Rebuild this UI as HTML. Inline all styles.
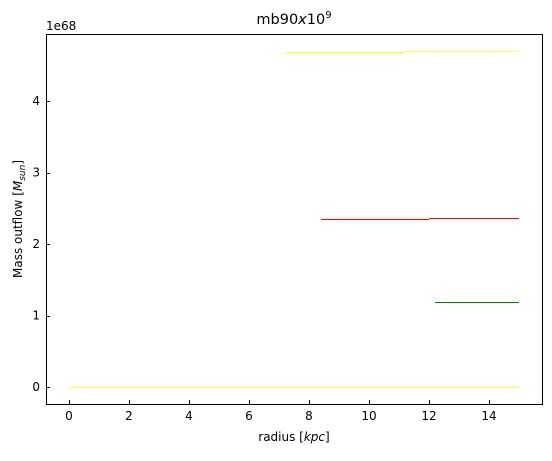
<!DOCTYPE html>
<html><head><meta charset="utf-8"><style>
body{margin:0;background:#fff;font-family:"Liberation Sans","DejaVu Sans",sans-serif}
svg text{font-family:"DejaVu Sans","Liberation Sans",sans-serif;fill:#000}
</style></head><body>
<svg id="chart" width="552" height="456" xmlns="http://www.w3.org/2000/svg">
<rect x="0" y="0" width="552" height="456" fill="#fff"/>
<g id="marks" shape-rendering="crispEdges"></g>
<g id="axes"></g>
<rect x="46.5" y="34.5" width="496" height="370" fill="none" stroke="#000" stroke-width="1"/>
<text x="294" y="24" font-size="14.5" text-anchor="middle">mb90<tspan font-style="italic">x</tspan>10<tspan font-size="10" dy="-6">9</tspan></text>
<text x="294" y="441" font-size="12" text-anchor="middle">radius [<tspan font-style="italic">kpc</tspan>]</text>
<text transform="translate(22,219) rotate(-90)" font-size="12" text-anchor="middle">Mass outflow [<tspan font-style="italic">M</tspan><tspan font-style="italic" font-size="9" dy="3">sun</tspan><tspan dy="-3">]</tspan></text>
<text x="46" y="30" font-size="12">1e68</text>
</svg>
<script>
const xTicks=[0,2,4,6,8,10,12,14];
const yTicks=[0,1,2,3,4];
const segStart=[0,7.2,11.2,8.4,12,12.2];
const segEnd=[15,11.2,15,12,15,15];
const segValue=[0,4.685,4.695,2.35,2.364,1.19];
const segColor=['#ffff40','#ffff00','#ffff60','#ff0000','#ff0000','#008000'];
const segName=['yellow-baseline','yellow-step-1','yellow-step-2','red-step-1','red-step-2','green-step'];
const sx=v=>69+v*30;
const sy=v=>387-v*71.5;
const NS='http://www.w3.org/2000/svg';
const marks=document.getElementById('marks');
const axes=document.getElementById('axes');
for(let i=0;i<segStart.length;i++){
  const l=document.createElementNS(NS,'line');
  
  
  const y=Math.round(sy(segValue[i]))+0.5;
  l.setAttribute('x1',sx(segStart[i]));l.setAttribute('x2',sx(segEnd[i]));
  l.setAttribute('y1',y);l.setAttribute('y2',y);
  l.setAttribute('stroke',segColor[i]);
  l.setAttribute('stroke-width',1);
  marks.appendChild(l);
}
xTicks.forEach(t=>{
  const l=document.createElementNS(NS,'line');
  
  
  l.setAttribute('x1',sx(t)+0.5);l.setAttribute('x2',sx(t)+0.5);l.setAttribute('y1',404);l.setAttribute('y2',400);
  l.setAttribute('stroke','#000');axes.appendChild(l);
  const tx=document.createElementNS(NS,'text');
  
  
  tx.setAttribute('x',sx(t));tx.setAttribute('y',420);tx.setAttribute('font-size','12');tx.setAttribute('text-anchor','middle');
  tx.textContent=t;axes.appendChild(tx);
});
yTicks.forEach(t=>{
  const l=document.createElementNS(NS,'line');
  
  
  l.setAttribute('x1',46);l.setAttribute('x2',50);l.setAttribute('y1',Math.round(sy(t))+0.5);l.setAttribute('y2',Math.round(sy(t))+0.5);
  l.setAttribute('stroke','#000');axes.appendChild(l);
  const tx=document.createElementNS(NS,'text');
  
  
  tx.setAttribute('x',40);tx.setAttribute('y',sy(t)+4);tx.setAttribute('font-size','12');tx.setAttribute('text-anchor','end');
  tx.textContent=t;axes.appendChild(tx);
});
</script>
</body></html>
